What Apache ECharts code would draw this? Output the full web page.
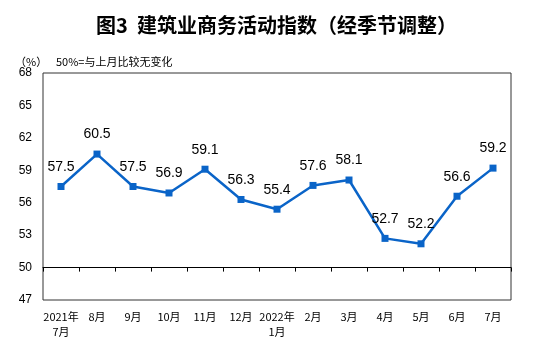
<!DOCTYPE html>
<html>
<head>
<meta charset="utf-8">
<script src="https://cdn.jsdelivr.net/npm/echarts@6/dist/echarts.min.js"></script>
<style>html,body{margin:0;padding:0;background:#fff;}#c{width:553px;height:343px;}</style>
</head>
<body>
<div id="c"></div>
<script>
const categories = ['2021年\n7月','8月','9月','10月','11月','12月','2022年\n1月','2月','3月','4月','5月','6月','7月'];
const values = [57.5, 60.5, 57.5, 56.9, 59.1, 56.3, 55.4, 57.6, 58.1, 52.7, 52.2, 56.6, 59.2];
const yMin = 47, yMax = 68, yStep = 3;
const titleText = '图3  建筑业商务活动指数（经季节调整）';
const unitText = '（%）';
const noteText = '50%=与上月比较无变化';

const chart = echarts.init(document.getElementById('c'));
chart.setOption({
  animation: false,
  backgroundColor: '#fff',
  title: [
    { text: titleText, left: 'center', top: 10,
      textStyle: { fontFamily: 'Noto Sans CJK SC', fontSize: 20, fontWeight: 'bold', color: '#000' } },
    { text: unitText, left: 10, top: 51,
      textStyle: { fontFamily: 'Noto Sans CJK SC', fontSize: 11, fontWeight: 'normal', color: '#000' } },
    { text: noteText, left: 51, top: 51,
      textStyle: { fontFamily: 'Noto Sans CJK SC', fontSize: 11, fontWeight: 'normal', color: '#000' } }
  ],
  grid: { left: 43, right: 42, top: 73, bottom: 43, show: true, borderColor: '#333', borderWidth: 1 },
  xAxis: {
    type: 'category',
    data: categories,
    boundaryGap: true,
    offset: -32.4,
    axisLine: { show: true, lineStyle: { color: '#000', width: 1 } },
    axisTick: { show: true, length: 4, lineStyle: { color: '#000' } },
    axisLabel: { margin: 42, fontFamily: 'Noto Sans CJK SC', fontSize: 11, color: '#000', lineHeight: 15, interval: 0 }
  },
  yAxis: {
    type: 'value', min: yMin, max: yMax, interval: yStep,
    axisLine: { show: false }, axisTick: { show: false },
    splitLine: { show: false },
    axisLabel: { margin: 11, fontFamily: 'Liberation Sans', fontSize: 12, color: '#000' }
  },
  series: [{
    type: 'line',
    data: values,
    symbol: 'rect', symbolSize: 7,
    lineStyle: { color: '#0a64c8', width: 2.5 },
    itemStyle: { color: '#0a64c8' },
    label: { show: true, position: 'top', distance: 9, fontFamily: 'Liberation Sans', fontSize: 14, color: '#000',
      formatter: p => p.value.toFixed(1) }
  }]
});
</script>
</body>
</html>
